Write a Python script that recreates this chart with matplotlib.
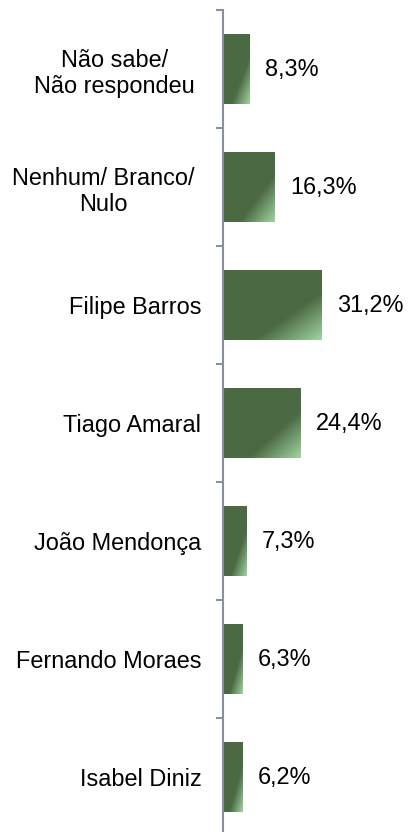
import numpy as np
import matplotlib
matplotlib.use("Agg")
import matplotlib.pyplot as plt
from matplotlib.colors import LinearSegmentedColormap
from matplotlib.transforms import ScaledTranslation

categories = ["Não sabe/\nNão respondeu", "Nenhum/ Branco/\nNulo", "Filipe Barros",
              "Tiago Amaral", "João Mendonça", "Fernando Moraes", "Isabel Diniz"]
values = [8.3, 16.3, 31.2, 24.4, 7.3, 6.3, 6.2]
value_labels = ["8,3%", "16,3%", "31,2%", "24,4%", "7,3%", "6,3%", "6,2%"]

plt.rcParams['font.family'] = ['Liberation Sans', 'DejaVu Sans']

W, H, DPI = 409, 832, 100
fig = plt.figure(figsize=(W / DPI, H / DPI), dpi=DPI)
fig.patch.set_facecolor("white")

ax_left = 223 / W
ax_top = 10
ax_h = 7 * 118
ax = fig.add_axes([ax_left, (H - ax_top - ax_h) / H, 1 - ax_left, ax_h / H])

ypos = np.arange(len(categories))
bars = ax.barh(ypos, values, height=0.59, color="none", edgecolor="none", zorder=2)

dark = "#4b6a44"
light = "#a2d4a2"
cmap = LinearSegmentedColormap.from_list("g", [(0, dark), (0.66, dark), (1.0, light)])
n = 200
u = np.linspace(0, 1, n)
v = np.linspace(0, 1, n)
U, V = np.meshgrid(u, v)
T = (U + V) / 2

for p in bars.patches:
    x0, y0 = p.get_x(), p.get_y()
    w, h = p.get_width(), p.get_height()
    im = ax.imshow(T, cmap=cmap, vmin=0, vmax=1, extent=[x0, x0 + w, y0, y0 + h],
                   origin="lower", aspect="auto", interpolation="bilinear", zorder=2)
    im.set_clip_path(p)

for i, (val, lab) in enumerate(zip(values, value_labels)):
    ax.annotate(lab, xy=(val, i), xytext=(11, 0), textcoords="offset points",
                va="center", ha="left", fontsize=16.9, color="black")

ax.set_xlim(0, 58.8)
ax.set_ylim(len(categories) - 0.5, -0.5)

axis_color = "#8a909b"
for s in ["top", "right", "bottom"]:
    ax.spines[s].set_visible(False)
ax.spines["left"].set_color(axis_color)
ax.spines["left"].set_linewidth(1.5)
ax.spines["left"].set_zorder(3)

ax.set_xticks([])
ax.set_yticks(ypos)
ax.set_yticklabels(categories, fontsize=16.9, multialignment="center")
ax.set_yticks(np.arange(-0.5, len(categories), 1.0), minor=True)
ax.tick_params(axis="y", which="major", length=0, pad=15.5)
ax.tick_params(axis="y", which="minor", length=5, width=1.5, color=axis_color, direction="out")
ax.set_facecolor("none")

shift = ScaledTranslation(-6.5 / DPI, 0, fig.dpi_scale_trans)
for lbl in ax.get_yticklabels():
    if "\n" in lbl.get_text():
        lbl.set_transform(lbl.get_transform() + shift)

fig.savefig("out.png", dpi=DPI, facecolor="white")
